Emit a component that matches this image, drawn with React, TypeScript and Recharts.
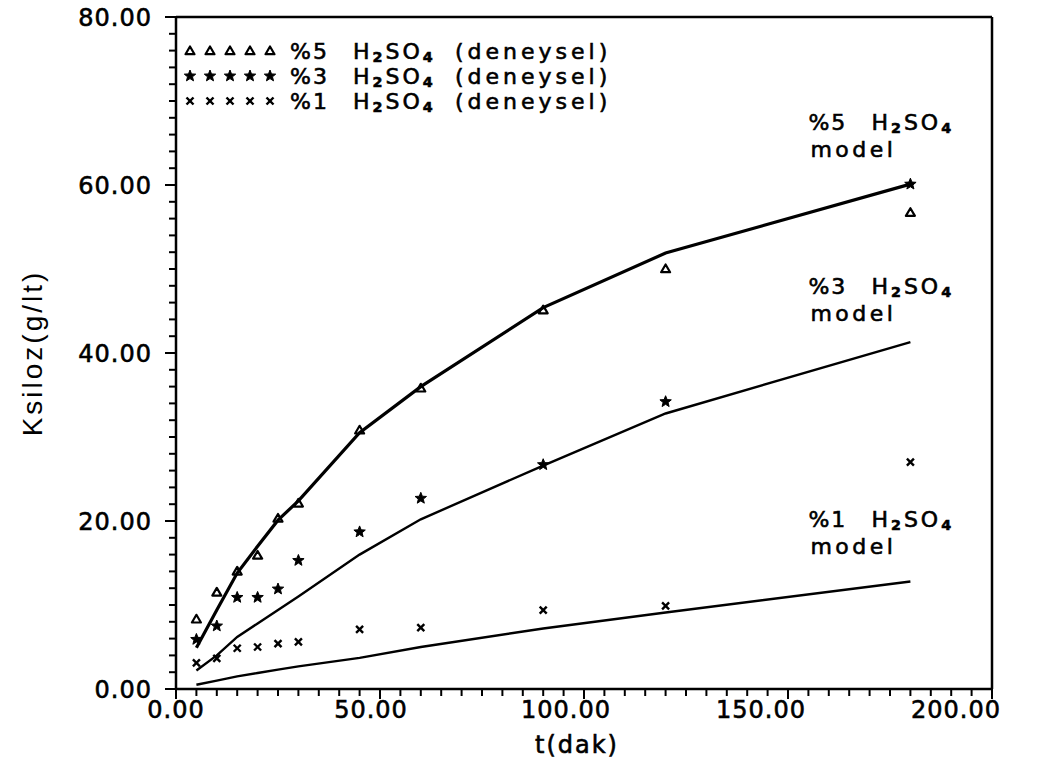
import React from 'react';
import { ComposedChart, Line, Scatter, XAxis, YAxis, ReferenceLine, ReferenceDot } from 'recharts';

const FONT = '"DejaVu Sans", sans-serif';

const times = [5, 10, 15, 20, 25, 30, 45, 60, 90, 120, 180];
const exp5 = [8.3, 11.5, 14.0, 15.9, 20.3, 22.1, 30.8, 35.8, 45.1, 50.0, 56.7];
const exp3 = [5.9, 7.5, 10.9, 10.9, 11.9, 15.3, 18.7, 22.7, 26.7, 34.2, 60.1];
const exp1 = [3.1, 3.65, 4.85, 5.0, 5.4, 5.6, 7.1, 7.3, 9.4, 9.9, 27.0];
const model5 = [4.9, 9.4, 13.8, 17.0, 20.1, 22.4, 30.5, 36.0, 45.4, 51.9, 60.1];
const model3 = [2.2, 4.0, 6.2, 7.8, 9.4, 11.0, 16.0, 20.2, 26.6, 32.8, 41.3];
const model1 = [0.5, 1.0, 1.5, 1.9, 2.3, 2.7, 3.7, 5.0, 7.2, 9.1, 12.8];

const xTicks = [0, 5, 10, 15, 20, 25, 30, 35, 40, 45, 50, 55, 60, 65, 70, 75, 80, 85, 90, 95, 100,
  105, 110, 115, 120, 125, 130, 135, 140, 145, 150, 155, 160, 165, 170, 175, 180, 185, 190, 195, 200];
const xMajor = [0, 50, 100, 150, 200];
const yTicks = [0, 2, 4, 6, 8, 10, 12, 14, 16, 18, 20, 22, 24, 26, 28, 30, 32, 34, 36, 38, 40,
  42, 44, 46, 48, 50, 52, 54, 56, 58, 60, 62, 64, 66, 68, 70, 72, 74, 76, 78, 80];
const yMajor = [0, 20, 40, 60, 80];

const legendRows = [
  { pct: '%5', shape: 'triangle' },
  { pct: '%3', shape: 'star' },
  { pct: '%1', shape: 'cross' },
];

const annotations = [
  { pct: '%5', x: 155, y: 66.6 },
  { pct: '%3', x: 155, y: 47.0 },
  { pct: '%1', x: 155, y: 19.3 },
];

const rows = times.map((t, i) => ({
  t,
  e5: exp5[i],
  e3: exp3[i],
  e1: exp1[i],
  m5: model5[i],
  m3: model3[i],
  m1: model1[i],
}));

const THICK = { stroke: '#000', strokeWidth: 0.6 };

const TriangleMark = ({ cx, cy }: any) => {
  if (cx == null || cy == null) return null;
  return (
    <path
      d={`M${cx},${cy - 4.5} L${cx + 4.5},${cy + 3.2} L${cx - 4.5},${cy + 3.2} Z`}
      fill="none"
      stroke="#000"
      strokeWidth={2.2}
      strokeLinejoin="round"
    />
  );
};

const starPath = (cx: number, cy: number, ro: number, ri: number) => {
  let d = '';
  for (let k = 0; k < 10; k++) {
    const r = k % 2 === 0 ? ro : ri;
    const a = -Math.PI / 2 + (k * Math.PI) / 5;
    d += `${k === 0 ? 'M' : 'L'}${cx + r * Math.cos(a)},${cy + r * Math.sin(a)} `;
  }
  return d + 'Z';
};

const StarMark = ({ cx, cy }: any) => {
  if (cx == null || cy == null) return null;
  return <path d={starPath(cx, cy, 6, 2.6)} fill="#000" stroke="#000" strokeWidth={1} />;
};

const CrossMark = ({ cx, cy }: any) => {
  if (cx == null || cy == null) return null;
  const s = 3.5;
  return (
    <g stroke="#000" strokeWidth={2.4}>
      <line x1={cx - s} y1={cy - s} x2={cx + s} y2={cy + s} />
      <line x1={cx - s} y1={cy + s} x2={cx + s} y2={cy - s} />
    </g>
  );
};

const XTick = ({ x, y, payload }: any) => {
  const v = payload.value;
  const major = xMajor.includes(v);
  return (
    <g>
      <line x1={x} x2={x} y1={y} y2={y + (major ? 10 : 7)} stroke="#000" strokeWidth={2} />
      {major && (
        <text
          x={x}
          dx={-0.18 * v}
          y={y + 29}
          textAnchor="middle"
          fontFamily={FONT}
          fontSize={24}
          letterSpacing={1}
          fill="#000"
          {...THICK}
        >
          {v.toFixed(2)}
        </text>
      )}
    </g>
  );
};

const YTick = ({ x, y, payload }: any) => {
  const v = payload.value;
  const major = yMajor.includes(v);
  return (
    <g>
      <line x1={x - (major ? 11 : 7)} x2={x} y1={y} y2={y} stroke="#000" strokeWidth={2} />
      {major && (
        <text x={x - 24} y={y + 9} textAnchor="end" fontFamily={FONT} fontSize={24} letterSpacing={1} fill="#000" {...THICK}>
          {v.toFixed(2)}
        </text>
      )}
    </g>
  );
};

const XLabel = ({ viewBox }: any) => {
  const { x, y, width } = viewBox;
  return (
    <text x={x + width / 2 - 7} y={y + 64} textAnchor="middle" fontFamily={FONT} fontSize={24} letterSpacing={2} fill="#000" {...THICK}>
      t(dak)
    </text>
  );
};

const YLabel = ({ viewBox }: any) => {
  const { x, y, height } = viewBox;
  const cx = x + 32;
  const cy = y + height / 2;
  return (
    <text
      x={cx}
      y={cy}
      transform={`rotate(-90 ${cx} ${cy})`}
      textAnchor="middle"
      dominantBaseline="central"
      fontFamily='"Liberation Sans", Arial, sans-serif'
      fontSize={28}
      letterSpacing={3}
      fill="#000"
    >
      Ksiloz(g/lt)
    </text>
  );
};

const H2SO4 = ({ x, y, size }: { x: number; y: number; size: number }) => (
  <text x={x} y={y} fontFamily={FONT} fontSize={size} letterSpacing={3} fill="#000" {...THICK}>
    H
    <tspan fontSize={size * 0.65} dy={3} fontWeight="bold">2</tspan>
    <tspan dy={-3}>SO</tspan>
    <tspan fontSize={size * 0.65} dy={3} fontWeight="bold">4</tspan>
  </text>
);

const Annotation = ({ viewBox, pct }: any) => {
  const { x, y } = viewBox;
  return (
    <g>
      <text x={x} y={y} fontFamily={FONT} fontSize={22} letterSpacing={2} fill="#000" {...THICK}>
        {pct}
      </text>
      <H2SO4 x={x + 63} y={y} size={22} />
      <text x={x + 2} y={y + 27} fontFamily={FONT} fontSize={22} letterSpacing={3.5} fill="#000" {...THICK}>
        model
      </text>
    </g>
  );
};

const LegendOverlay = () => (
  <svg width={1055} height={765} style={{ position: 'absolute', left: 0, top: 0, pointerEvents: 'none' }}>
    {legendRows.map((r, i) => {
      const cy = 51 + i * 25;
      const Mark = r.shape === 'triangle' ? TriangleMark : r.shape === 'star' ? StarMark : CrossMark;
      return (
        <g key={r.pct}>
          {[190, 210, 230, 250, 270].map((sx) => (
            <Mark key={sx} cx={sx} cy={cy} />
          ))}
          <text x={290} y={cy + 8} fontFamily={FONT} fontSize={22} letterSpacing={2} fill="#000" {...THICK}>
            {r.pct}
          </text>
          <H2SO4 x={353} y={cy + 8} size={22} />
          <text x={455} y={cy + 8} fontFamily={FONT} fontSize={22} letterSpacing={4} fill="#000" {...THICK}>
            (deneysel)
          </text>
        </g>
      );
    })}
  </svg>
);

export default function App() {
  return (
    <div style={{ position: 'absolute', left: 0, top: 0, width: 1055, height: 765, background: '#fff' }}>
      <ComposedChart
        width={1055}
        height={765}
        data={rows}
        margin={{ top: 17, right: 63, left: 0, bottom: 0 }}
      >
        <XAxis
          dataKey="t"
          type="number"
          domain={[0, 200]}
          ticks={xTicks}
          interval={0}
          allowDataOverflow
          height={76}
          tickSize={0}
          tickMargin={0}
          tickLine={false}
          tick={<XTick />}
          axisLine={{ stroke: '#000', strokeWidth: 2.5 }}
          label={<XLabel />}
        />
        <YAxis
          type="number"
          domain={[0, 80]}
          ticks={yTicks}
          interval={0}
          allowDataOverflow
          width={176}
          tickSize={0}
          tickMargin={0}
          tickLine={false}
          tick={<YTick />}
          axisLine={{ stroke: '#000', strokeWidth: 2.5 }}
          label={<YLabel />}
        />
        <ReferenceLine y={80} stroke="#000" strokeWidth={2.5} />
        <ReferenceLine x={200} stroke="#000" strokeWidth={2.5} />
        <Line type="linear" dataKey="m5" stroke="#000" strokeWidth={3.2} dot={false} isAnimationActive={false} />
        <Line type="linear" dataKey="m3" stroke="#000" strokeWidth={2.4} dot={false} isAnimationActive={false} />
        <Line type="linear" dataKey="m1" stroke="#000" strokeWidth={2.4} dot={false} isAnimationActive={false} />
        <Scatter dataKey="e5" shape={<TriangleMark />} isAnimationActive={false} />
        <Scatter dataKey="e3" shape={<StarMark />} isAnimationActive={false} />
        <Scatter dataKey="e1" shape={<CrossMark />} isAnimationActive={false} />
        {annotations.map((a) => (
          <ReferenceDot
            key={a.pct}
            x={a.x}
            y={a.y}
            r={0}
            fill="none"
            stroke="none"
            label={<Annotation pct={a.pct} />}
          />
        ))}
      </ComposedChart>
      <LegendOverlay />
    </div>
  );
}
